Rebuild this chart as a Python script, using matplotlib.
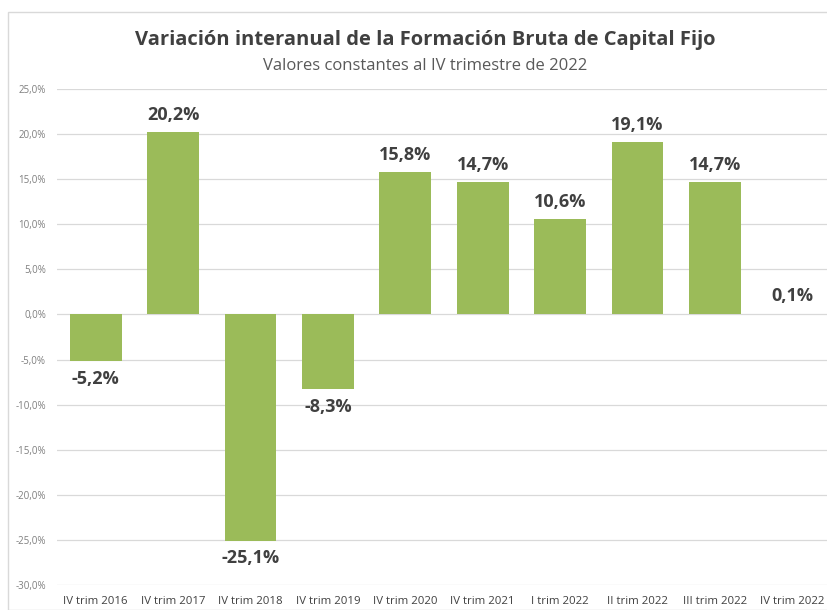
import matplotlib
matplotlib.use("Agg")
import matplotlib.pyplot as plt
from matplotlib.patches import Rectangle
from matplotlib import font_manager

categories = ["IV trim 2016", "IV trim 2017", "IV trim 2018", "IV trim 2019", "IV trim 2020",
              "IV trim 2021", "I trim 2022", "II trim 2022", "III trim 2022", "IV trim 2022"]
values = [-5.2, 20.2, -25.1, -8.3, 15.8, 14.7, 10.6, 19.1, 14.7, 0.1]
yticks = [-30, -25, -20, -15, -10, -5, 0, 5, 10, 15, 20, 25]

names = {f.name for f in font_manager.fontManager.ttflist}
fam = "Liberation Sans Narrow" if "Liberation Sans Narrow" in names else "Open Sans"
plt.rcParams['font.family'] = [fam, 'DejaVu Sans']

W, H = 827, 610
fig = plt.figure(figsize=(W / 100, H / 100), dpi=100)
fig.patches.append(Rectangle((8 / W, 0), 1, (H - 12) / H, transform=fig.transFigure,
                             fill=False, edgecolor="#D9D9D9", linewidth=1))

ax = fig.add_axes([57 / W, 25 / H, 774 / W, 496 / H])
x = list(range(len(categories)))
ax.bar(x, values, width=0.67, color="#9BBB59", zorder=3)
ax.set_xlim(-0.5, len(categories) - 0.5)
ax.set_ylim(-30, 25)
ax.set_yticks(yticks)
ax.set_yticklabels([f"{v:.1f}%".replace(".", ",") for v in yticks], color="#7F7F7F", fontsize=7)
ax.set_xticks(x)
ax.set_xticklabels(categories, color="#404040", fontsize=8.2)
ax.tick_params(length=0)
ax.tick_params(axis='y', pad=8)
ax.tick_params(axis='x', pad=8)
ax.grid(axis='y', color="#D9D9D9", linewidth=0.9, zorder=0)
for s in ax.spines.values():
    s.set_visible(False)

for xi, v in zip(x, values):
    lab = f"{v:.1f}%".replace(".", ",")
    if v >= 0:
        ax.annotate(lab, (xi, v), xytext=(0, 6), textcoords="offset points",
                    ha="center", va="bottom", fontsize=13, fontweight="bold", color="#404040")
    else:
        ax.annotate(lab, (xi, v), xytext=(0, -6), textcoords="offset points",
                    ha="center", va="top", fontsize=13, fontweight="bold", color="#404040")

fig.text(425 / W, 1 - 40 / H, "Variación interanual de la Formación Bruta de Capital Fijo",
         ha="center", va="center", fontsize=14.5, fontweight="bold", color="#404040")
fig.text(425 / W, 1 - 66 / H, "Valores constantes al IV trimestre de 2022",
         ha="center", va="center", fontsize=12, color="#595959")

fig.savefig("out.png", dpi=100)
